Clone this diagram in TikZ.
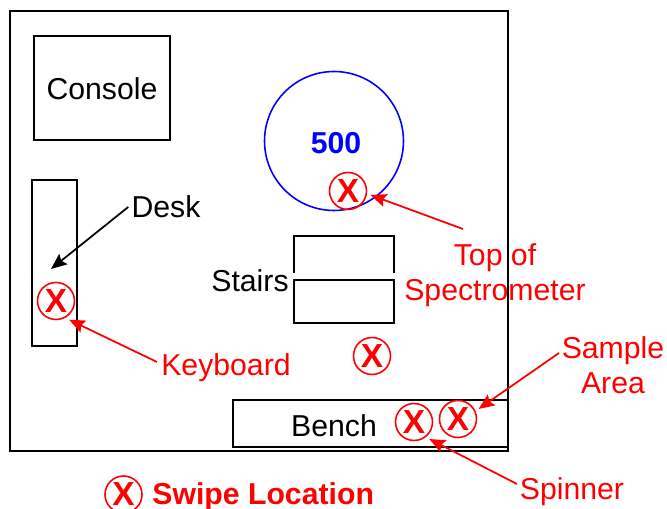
\documentclass[tikz,border=0pt]{standalone}
\usepackage{fontspec}
\setmainfont{Liberation Sans}
\usetikzlibrary{arrows.meta}

\tikzset{
  room/.style={draw, line width=1pt, inner sep=0pt},
  lbl/.style={inner sep=0pt, align=center, font=\fontsize{17.2pt}{19.8pt}\selectfont},
  redlbl/.style={lbl, text=red},
  boldlbl/.style={lbl, font=\fontsize{17.2pt}{19.8pt}\selectfont\bfseries},
  swipemark/.style={draw=red, text=red, circle, line width=0.9pt, inner sep=0pt, minimum size=0.74cm, outer sep=2.5pt, font=\fontsize{19pt}{20pt}\selectfont\bfseries},
  ptr/.style={line width=1pt, -{Stealth[length=9pt,width=7.5pt,inset=1.5pt]}},
  redptr/.style={ptr, red}
}

\begin{document}
\begin{tikzpicture}[x=0.02cm,y=-0.02cm]
\useasboundingbox (0,0) rectangle (667,509) ;

% walls and furniture
\node [room, minimum width=9.96cm, minimum height=8.8cm] (walls) at (259,231) {} ;
\node [room, minimum width=2.72cm, minimum height=2.08cm] (console) at (102,88) {} ;
\node [room, minimum width=0.9cm, minimum height=3.32cm] (desk) at (54.5,263) {} ;
\node [inner sep=0pt, minimum width=2cm, minimum height=0.86cm] (stairtop) at (344,257.5) {} ;
\node [room, minimum width=2cm, minimum height=0.86cm] (stairlow) at (344,301.5) {} ;
\node [room, minimum width=5.5cm, minimum height=0.94cm] (bench) at (370.5,423.5) {} ;
\node [draw=blue, circle, line width=0.9pt, inner sep=0pt, minimum size=2.78cm] (magnet) at (334,141) {} ;
\draw [line width=1pt] (stairtop.south west) ++(0,-6) -- (stairtop.north west) -- (stairtop.north east) -- ++(0,37) ;

% labels
\node [lbl] (consolelbl) at (102,89) {Console} ;
\node [lbl] (desklbl) at (166,207) {Desk} ;
\node [lbl] (stairslbl) at (250,281) {Stairs} ;
\node [lbl] (benchlbl) at (334,426) {Bench} ;
\node [boldlbl, text=blue] (magnetlbl) at (336,143) {500} ;
\node [redlbl] (toplbl) at (495,275) {Top of\\Spectrometer} ;
\node [redlbl] (keylbl) at (226,368) {Keyboard} ;
\node [redlbl] (samplelbl) at (613,365) {Sample\\Area} ;
\node [redlbl] (spinlbl) at (572,492) {Spinner} ;

% swipe marks
\node [swipemark] (topmark) at (348,191) {X} ;
\node [swipemark] (keymark) at (56,301) {X} ;
\node [swipemark] (floormark) at (372,356) {X} ;
\node [swipemark] (spinmark) at (414,422) {X} ;
\node [swipemark] (samplemark) at (458,419) {X} ;
\node [swipemark] (legendmark) at (123.5,494.5) {X} ;
\node [boldlbl, text=red, anchor=west] (swipelbl) at (152,497) {Swipe Location} ;

% pointers
\coordinate (deskend) at (51,269) ;
\coordinate (topstart) at (463,229) ;
\coordinate (samplestart) at (559,353) ;
\coordinate (keystart) at (157,362) ;
\coordinate (spinstart) at (517,484) ;
\draw [ptr] (desklbl.west) ++(-3,0) -- (deskend) ;
\draw [redptr] (topstart) -- (topmark.-10) ;
\draw [redptr] (keystart) -- (keymark.-55) ;
\draw [redptr] (samplestart) -- (samplemark.26) ;
\draw [redptr] (spinstart) -- (spinmark.-48) ;
\end{tikzpicture}
\end{document}
